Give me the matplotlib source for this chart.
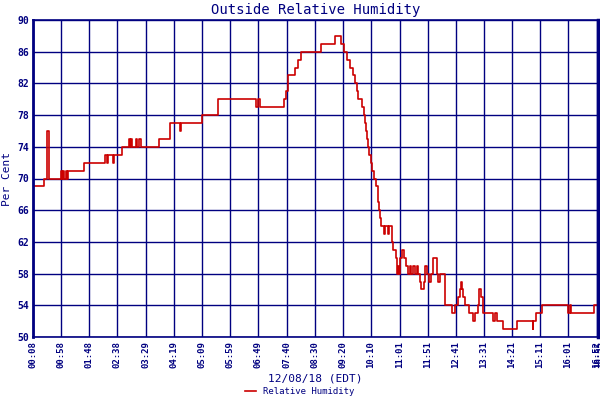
import matplotlib
matplotlib.use("Agg")
import matplotlib.pyplot as plt

minutes = [8, 28, 33, 37, 58, 60, 62, 63, 67, 69, 70, 99, 136, 140, 142, 151, 152, 167, 179, 181,
           183, 184, 192, 194, 197, 201, 233, 252, 270, 272, 309, 338, 406, 409, 413, 455, 459, 463,
           475, 480, 486, 521, 546, 557, 562, 568, 573, 579, 582, 586, 587, 595, 598, 600, 602, 603,
           605, 607, 611, 612, 616, 620, 623, 625, 627, 628, 634, 635, 641, 642, 647, 648, 650, 655,
           657, 659, 660, 662, 666, 669, 673, 677, 680, 682, 685, 689, 692, 694, 698, 700, 705, 707,
           710, 714, 717, 721, 728, 730, 734, 742, 755, 760, 766, 769, 771, 773, 775, 778, 784, 792,
           796, 800, 803, 807, 810, 828, 832, 835, 846, 871, 898, 899, 905, 915, 962, 964, 967, 1008, 1015]
humidity = [69, 70, 76, 70, 71, 70, 71, 70, 71, 70, 71, 72, 73, 72, 73, 72, 73, 74, 75, 74,
            75, 74, 75, 74, 75, 74, 75, 77, 76, 77, 78, 80, 79, 80, 79, 80, 81, 83,
            84, 85, 86, 87, 88, 87, 86, 85, 84, 83, 82, 81, 80, 79, 78, 77, 76, 75,
            74, 73, 72, 71, 70, 69, 67, 66, 65, 64, 63, 64, 63, 64, 63, 62, 61, 60,
            58, 59, 58, 60, 61, 60, 59, 58, 59, 58, 59, 58, 59, 58, 57, 56, 57, 59,
            58, 57, 58, 60, 58, 57, 58, 54, 53, 54, 55, 56, 57, 56, 55, 54, 53, 52,
            53, 54, 56, 55, 53, 52, 53, 52, 51, 52, 51, 52, 53, 54, 53, 54, 53, 54, 54]

tick_minutes = [8, 58, 108, 158, 209, 259, 309, 359, 409, 460, 510, 560, 610, 661, 711, 761,
                811, 861, 911, 961, 1012, 1015]
tick_labels = ["00:08", "00:58", "01:48", "02:38", "03:29", "04:19", "05:09", "05:59", "06:49",
               "07:40", "08:30", "09:20", "10:10", "11:01", "11:51", "12:41", "13:31", "14:21",
               "15:11", "16:01", "16:52", "16:55"]
y_ticks = list(range(50, 91, 4))

navy = "#000080"
plt.rcParams['font.family'] = ['DejaVu Sans Mono']
fig = plt.figure(figsize=(6, 4), dpi=100)
ax = fig.add_axes([0.055, 0.1575, 0.942, 0.7925])
ax.step(minutes, humidity, where="post", color="#cc0000", lw=1.2, label="Relative Humidity")
ax.set_xlim(8, 1015)
ax.set_ylim(50, 90)
ax.set_yticks(y_ticks)
ax.set_yticklabels([str(v) for v in y_ticks], fontsize=7, color=navy, fontweight="bold")
ax.set_xticks(tick_minutes)
ax.set_xticklabels(tick_labels, rotation=90, fontsize=6.5, color=navy, fontweight="bold")
ax.tick_params(length=0, pad=3)
ax.grid(True, color=navy, lw=1)
ax.set_axisbelow(True)
for s in ax.spines.values():
    s.set_color(navy)
    s.set_linewidth(1.2)
ax.spines["left"].set_linewidth(2)
ax.spines["right"].set_linewidth(2.5)
ax.set_title("Outside Relative Humidity", color=navy, fontsize=10, pad=4)
ax.set_ylabel("Per Cent", color=navy, fontsize=8, labelpad=4)
ax.set_xlabel("12/08/18 (EDT)", color=navy, fontsize=8, labelpad=4)
fig.legend(loc="lower center", bbox_to_anchor=(0.5, -0.01), frameon=False, fontsize=6.5,
           labelcolor=navy, handlelength=1.2)
fig.savefig("out.png", dpi=100)
